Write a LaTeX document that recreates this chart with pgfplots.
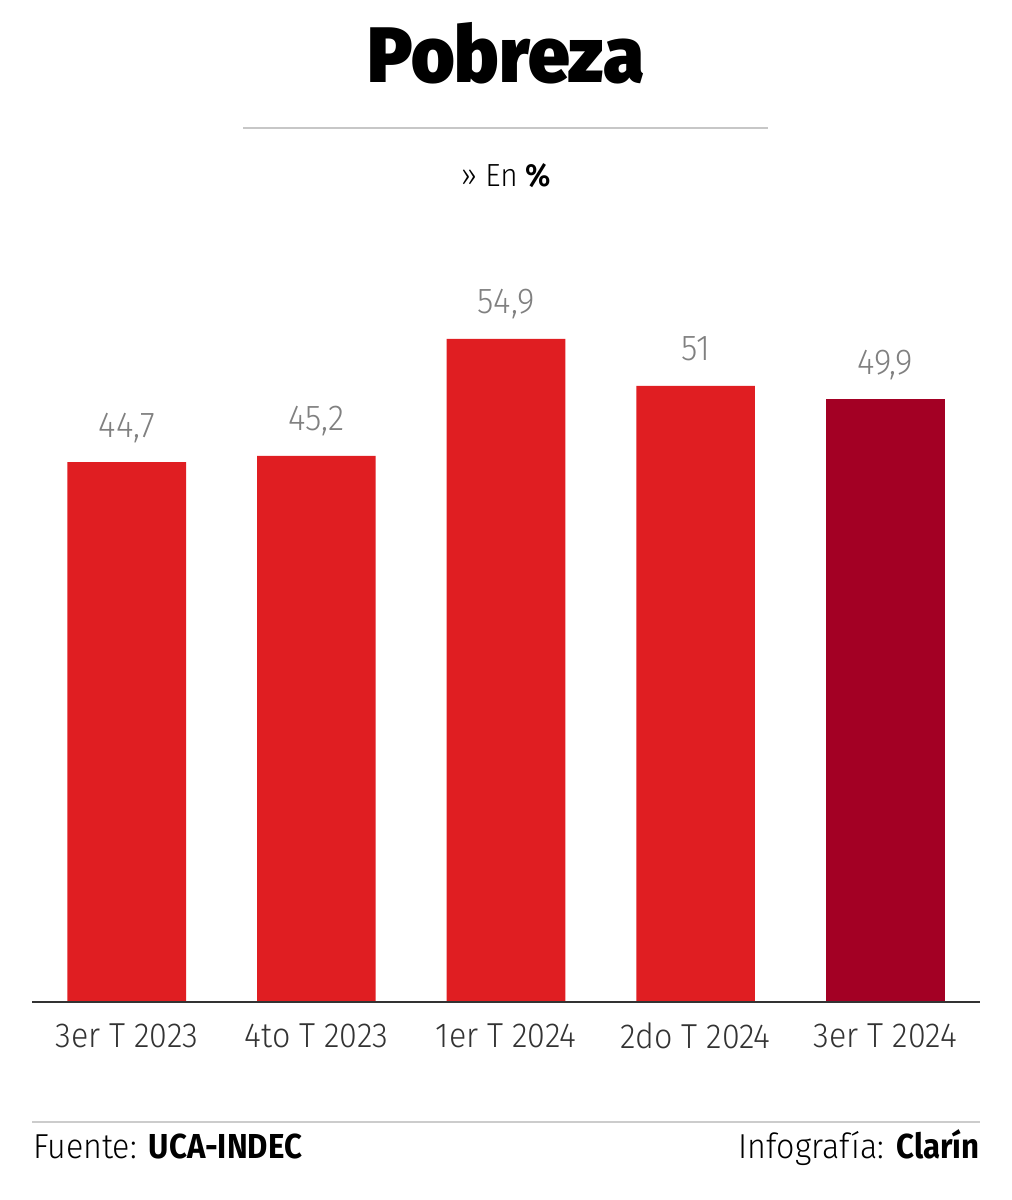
\documentclass[border=0pt]{standalone}
\usepackage{fontspec}
\setmainfont{Fira Sans}[UprightFont={* Light}, BoldFont={* SemiBold}, FakeStretch=0.93]
\newfontfamily\titlefont{Fira Sans}[UprightFont={* Black}, FakeStretch=0.95]
\newfontfamily\footbold{Fira Sans}[UprightFont={* Bold}, FakeStretch=0.9]
\usepackage{pgfplots}
\pgfplotsset{compat=1.18}
\definecolor{barred}{HTML}{E01E22}
\definecolor{bardark}{HTML}{A30024}
\definecolor{valgray}{HTML}{808080}
\definecolor{txt}{HTML}{333333}
\begin{document}
\begin{tikzpicture}[x=0.75pt,y=0.75pt]
\path[use as bounding box, fill=white] (0,0) rectangle (1011,1200);
\node[anchor=base, font=\titlefont\fontsize{59}{61}\selectfont] at (506,1117) {Pobreza};
\draw[color=black!22, line width=2.2pt] (243,1072) -- (768,1072);
\node[anchor=base, font=\fontsize{24}{26}\selectfont] at (506,1013) {» En \textbf{\%}};
\begin{axis}[at={(24pt,148.5pt)}, anchor=south west, scale only axis,
  width=711pt, height=543.6pt, xmin=-0.5, xmax=4.5, ymin=0, ymax=60,
  ybar, bar width=89pt, bar shift=0pt,
  axis x line=bottom, axis y line=none,
  axis line style={-, draw=txt, line width=1.8pt},
  axis on top, clip=false,
  xtick={0,...,4},
  xticklabels={3er T 2023, 4to T 2023, 1er T 2024, 2do T 2024, 3er T 2024},
  major tick length=0pt, tick style={draw=none},
  xticklabel style={anchor=center, yshift=-25.5pt, font=\fontsize{26}{28}\selectfont, text=txt},
  ytick=\empty,
  nodes near coords={\pgfmathprintnumber[use comma, fixed, precision=1, assume math mode=true]{\pgfplotspointmeta}},
  nodes near coords style={anchor=base, yshift=18.75pt, font=\fontsize{27}{29}\selectfont, text=valgray, inner sep=0pt},
]
\addplot[fill=barred, draw=none] coordinates {(0,44.7) (1,45.2) (2,54.9) (3,51)};
\addplot[fill=bardark, draw=none] coordinates {(4,49.9)};
\end{axis}
\draw[color=black!20, line width=1.5pt] (32,78) -- (980,78);
\node[anchor=base west, inner sep=0pt, font=\fontsize{26}{28}\selectfont] at (33,41) {Fuente: {\footbold UCA-INDEC}};
\node[anchor=base east, inner sep=0pt, font=\fontsize{26}{28}\selectfont] at (980,41) {Infografía: {\footbold Clarín}};
\end{tikzpicture}
\end{document}
